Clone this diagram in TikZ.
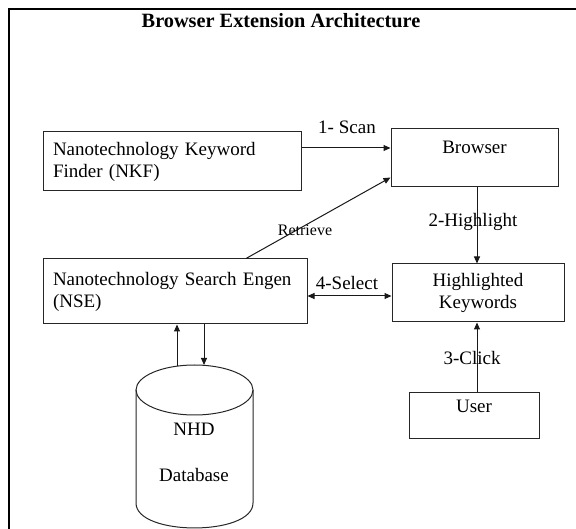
\documentclass[tikz,border=0pt]{standalone}
\usepackage{fontspec}
\setmainfont{Liberation Serif}
\usetikzlibrary{arrows.meta,calc}
\begin{document}
\begin{tikzpicture}[x=1pt,y=-1pt,
  every node/.style={font=\fontsize{19}{22}\selectfont, text=black},
  box/.style={draw=black!85, line width=1pt, rectangle, inner sep=0pt},
  arr/.style={draw=black!90, line width=1pt, -{Triangle[length=7pt,width=6pt]}},
  darr/.style={draw=black!90, line width=1pt, {Triangle[length=7pt,width=6pt]}-{Triangle[length=7pt,width=6pt]}},
  lbl/.style={inner sep=0pt}]
\useasboundingbox (0,0) rectangle (576,529);
\clip (0,0) rectangle (576,529);
% frame
\draw[line width=2.5pt, black] (590,9) -- (9,9) -- (9,540);
\node[lbl, font=\fontsize{20.3}{23}\selectfont\bfseries] (title) at (281,21) {Browser Extension Architecture};
% boxes
\node[box, minimum width=258pt, minimum height=59pt, text width=238pt, align=left] (nkf) at (172,161.5) {Nanotechnology Keyword\\Finder (NKF)};
\node[box, minimum width=167pt, minimum height=58pt, align=center] (browser) at (474.5,158) {Browser\\\mbox{}};
\node[box, minimum width=264pt, minimum height=65pt, text width=244pt, align=left] (nse) at (175,291.5) {Nanotechnology Search Engen\\(NSE)};
\node[box, minimum width=172pt, minimum height=58pt, align=center] (hk) at (478,293) {Highlighted\\Keywords};
\node[box, minimum width=130pt, minimum height=45pt, align=center] (user) at (474,415.5) {User\\[-3pt]\mbox{}};
% database cylinder
\draw[black!85, line width=1pt] (194.5,390) ellipse [x radius=58.5, y radius=25];
\draw[black!85, line width=1pt] (136,390) -- (136,503) .. controls (136,536.3) and (253,536.3) .. (253,503) -- (253,390);
\node[lbl, align=center] (db) at (194,452) {NHD\\[24pt]Database};
\coordinate (dbup) at (177,366);
\coordinate (dbdown) at (204,365);
% connectors
\draw[arr] ([yshift=13.5pt]nkf.east) coordinate (s1) -- (s1 -| browser.west);
\node[lbl] (scanlbl) at (347,127) {1- Scan};
\draw[arr] ([xshift=71pt]nse.north) -- ([yshift=10pt]browser.south west);
\node[lbl, font=\fontsize{16}{18}\selectfont] (retlbl) at (305,230) {Retrieve};
\draw[arr] ([xshift=2.5pt]browser.south) coordinate (h1) -- (h1 |- hk.north);
\node[lbl] (hllbl) at (473,222) {2-Highlight};
\draw[darr] ([yshift=-4.5pt]nse.east) coordinate (s4) -- (s4 -| hk.west);
\node[lbl] (sellbl) at (347,283) {4-Select};
\draw[arr] ([xshift=3pt]user.north) coordinate (c1) -- (c1 |- hk.south);
\node[lbl] (clklbl) at (472,358) {3-Click};
\draw[arr] (dbup) -- (dbup |- nse.south);
\draw[arr] (dbdown |- nse.south) -- (dbdown);
\end{tikzpicture}
\end{document}
